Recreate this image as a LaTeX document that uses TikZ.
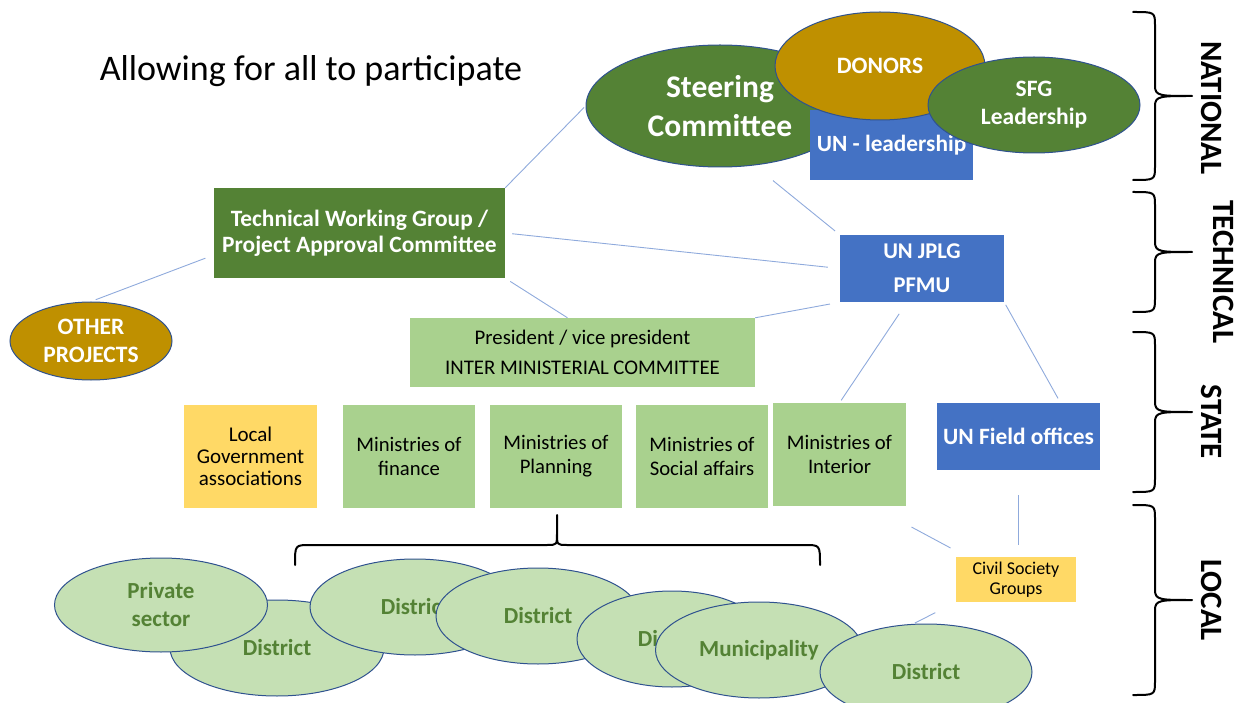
\documentclass[tikz,border=0pt]{standalone}
\usepackage{fontspec}
\setmainfont{Carlito}
\usepackage{xcolor}
\usepackage{tikz}
\usetikzlibrary{shapes.geometric,calc}
\definecolor{cDark}{RGB}{84,130,53}
\definecolor{cGold}{RGB}{191,144,0}
\definecolor{cBlue}{RGB}{68,114,196}
\definecolor{cPale}{RGB}{169,209,142}
\definecolor{cMint}{RGB}{197,224,180}
\definecolor{cSun}{RGB}{255,217,102}
\definecolor{cEdge}{RGB}{47,82,143}
\definecolor{cLink}{RGB}{143,170,220}
\newcommand{\fs}[2]{\fontsize{#1}{#2}\selectfont}
\tikzset{
  link/.style={cLink,line width=0.9pt},
  blob/.style={ellipse,draw=cEdge,line width=1pt,inner sep=0pt,align=center,font=\bfseries},
  tile/.style={rectangle,inner sep=0pt,align=center},
  bracket/.style={line width=2pt,black,line cap=round,line join=round},
  lvl/.style={rotate=-90,font=\bfseries\fs{31}{34}}
}

\begin{document}
\begin{tikzpicture}[x=1pt,y=-1pt]
  \useasboundingbox (0,0) rectangle (1242,703);
  \clip (0,0) rectangle (1242,703);
  % title
  \node[font=\fs{36}{42}] (title) at (311,71) {Allowing for all to participate};
  % national level
  \node[blob,fill=cDark,text=white,font=\bfseries\fs{31.5}{39},minimum width=268,minimum height=122] (steer) at (720,106) {Steering\\Committee};
  \node[tile,fill=cBlue,text=white,font=\bfseries\fs{23.3}{26},minimum width=163,minimum height=70] (unlead) at (891.5,145) {UN - leadership};
  \node[blob,fill=cGold,text=white,font=\bfseries\fs{23.5}{26},minimum width=210,minimum height=108] (donors) at (880,66) {DONORS};
  \node[blob,fill=cDark,text=white,font=\bfseries\fs{23.5}{28},minimum width=212,minimum height=96] (sfg) at (1034,105) {SFG\\Leadership};
  % technical level
  \node[tile,fill=cDark,text=white,font=\bfseries\fs{23.4}{26},minimum width=291,minimum height=90] (twg) at (359.5,233) {Technical Working Group /\\Project Approval Committee};
  \node[blob,fill=cGold,text=white,font=\bfseries\fs{23.5}{28},minimum width=162,minimum height=78] (other) at (91,341) {OTHER\\PROJECTS};
  \node[tile,fill=cBlue,text=white,font=\bfseries\fs{22.5}{34},minimum width=164,minimum height=67] (jplg) at (922,268.5) {UN JPLG\\PFMU};
  % state level
  \node[tile,fill=cPale,font=\fs{20.8}{30},minimum width=345,minimum height=69] (pres) at (582.5,352.5) {President / vice president\\INTER MINISTERIAL COMMITTEE};
  \node[tile,fill=cSun,font=\fs{21}{22},minimum width=133,minimum height=103] (lga) at (250.5,456.5) {Local\\Government\\associations};
  \node[tile,fill=cPale,font=\fs{20.7}{24},minimum width=132,minimum height=103] (fin) at (409,456.5) {Ministries of\\finance};
  \node[tile,fill=cPale,font=\fs{20.7}{24},minimum width=132,minimum height=103] (plan) at (556,456.5) {Ministries of\\Planning};
  \node[tile,fill=cPale,font=\fs{20.7}{24},minimum width=132,minimum height=103] (soc) at (702,456.5) {Ministries of\\Social affairs};
  \node[tile,fill=cPale,font=\fs{20.7}{24},minimum width=133,minimum height=103] (intr) at (839.5,454.5) {Ministries of\\Interior};
  \node[tile,fill=cBlue,text=white,font=\bfseries\fs{23.4}{26},minimum width=163,minimum height=67] (field) at (1018.5,436.5) {UN Field offices};
  \node[tile,fill=cSun,font=\fs{18}{20},minimum width=120,minimum height=45] (civil) at (1016,579.5) {Civil Society\\Groups};
  % local level, back to front
  \node[blob,fill=cMint,text=cDark,font=\bfseries\fs{23}{28},minimum width=214,minimum height=96] (d1) at (277,648) {District};
  \node[blob,fill=cMint,text=cDark,font=\bfseries\fs{23}{28},minimum width=213,minimum height=94] (priv) at (161,605) {Private\\sector};
  \node[blob,fill=cMint,text=cDark,font=\bfseries\fs{23}{28},minimum width=210,minimum height=96] (d2) at (415,607) {District};
  \node[blob,fill=cMint,text=cDark,font=\bfseries\fs{23}{28},minimum width=204,minimum height=96] (d3) at (538,616) {District};
  \node[blob,fill=cMint,text=cDark,font=\bfseries\fs{23}{28},minimum width=190,minimum height=96] (d4) at (672,639) {District};
  \node[blob,fill=cMint,text=cDark,font=\bfseries\fs{23}{28},minimum width=207,minimum height=96] (muni) at (759,650) {Municipality};
  \node[blob,fill=cMint,text=cDark,font=\bfseries\fs{23}{28},minimum width=212,minimum height=96] (d5) at (926,672) {District};
  % connectors
  \draw[link,shorten >=2pt] (twg.north east) -- (steer.west);
  \draw[link,shorten <=7pt,shorten >=12pt] (twg.east) -- (jplg.west);
  \draw[link,shorten <=6pt] (twg.south east) -- ([xshift=-15pt]pres.north);
  \draw[link,shorten <=9pt,shorten >=5pt] ([yshift=-22pt]twg.west) -- (other.north);
  \draw[link,shorten <=24pt,shorten >=6pt] (steer.-60) -- (jplg.north west);
  \draw[link,shorten <=10pt] (jplg.south west) -- (pres.north east);
  \draw[link,shorten <=14pt,shorten >=3pt] ([xshift=-15pt]jplg.south) -- (intr.north);
  \draw[link,shorten <=3pt,shorten >=5pt] (jplg.south east) -- ([xshift=42pt]field.north);
  \draw[link,shorten <=25pt,shorten >=12pt] (field.south) -- ([xshift=2.5pt]civil.north);
  \draw[link,shorten <=6pt,shorten >=6pt] ([yshift=-18pt]intr.south east) -- ([yshift=6pt]civil.north west);
  \draw[link,shorten <=23pt,shorten >=1pt] (civil.south west) -- ([xshift=-12pt]d5.north);
  % brace over the districts
  \draw[bracket] (295,565) .. controls (295,545) .. (310,545) -- (547,545)
    .. controls (557,545) .. (557,533) -- (557,515) -- (557,533)
    .. controls (557,545) .. (567,545) -- (805,545) .. controls (820,545) .. (820,565);
  % level braces on the right
  \foreach \t/\b/\lx/\ly/\name/\txt in {12/180/1212/108/nat/NATIONAL,192/312/1224/272/tech/TECHNICAL,
                                       332/492/1212/422/state/STATE,505/695/1212/600/local/LOCAL} {
    \pgfmathsetmacro\m{(\t+\b)/2}
    \draw[bracket] (1133,\t) .. controls (1155,\t) .. (1155,\t+14) -- (1155,\m-10)
      .. controls (1155,\m) and (1160,\m) .. (1192,\m)
      .. controls (1160,\m) and (1155,\m) .. (1155,\m+10) -- (1155,\b-14)
      .. controls (1155,\b) .. (1133,\b);
    \node[lvl] (lvl-\name) at (\lx,\ly) {\txt};
  }
\end{tikzpicture}
\end{document}
